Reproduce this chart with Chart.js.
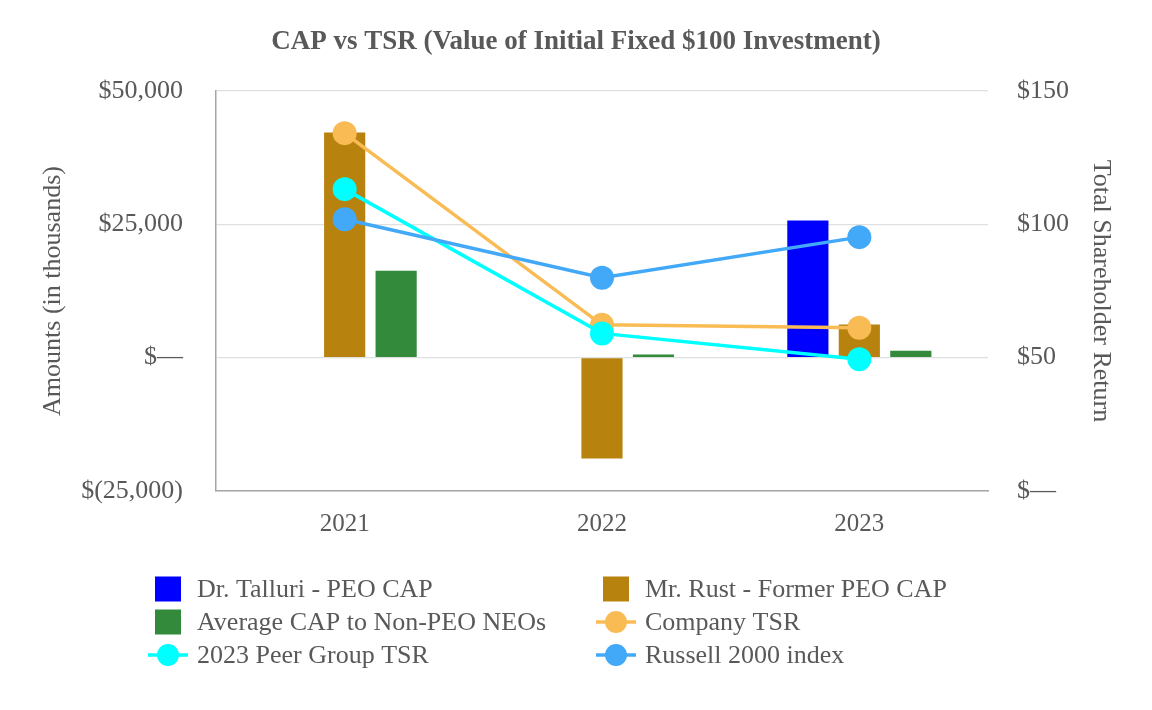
<!DOCTYPE html>
<html>
<head>
<meta charset="utf-8">
<script src="https://cdn.jsdelivr.net/npm/chart.js@4.4.1/dist/chart.umd.min.js"></script>
<style>
html,body{margin:0;padding:0;background:#fff;}
#wrap{width:1152px;height:710px;}
</style>
</head>
<body>
<div id="wrap"><canvas id="c" width="1152" height="710"></canvas></div>
<script>
// ---- data ----
const categories = ['2021', '2022', '2023'];
const tallCap = [null, null, 25700];
const rustCap = [42200, -18900, 6200];
const neoCap = [16300, 600, 1300];
const companyTsr = [134.2, 62.3, 61.2];
const peerTsr = [113.2, 59.1, 49.4];
const russellTsr = [101.9, 80.0, 95.2];
const leftTickValues = [-25000, 0, 25000, 50000];
const leftTickLabels = ['$(25,000)', '$—', '$25,000', '$50,000'];
const rightTickValues = [0, 50, 100, 150];
const rightTickLabels = ['$—', '$50', '$100', '$150'];
const seriesNames = ['Dr. Talluri - PEO CAP', 'Mr. Rust - Former PEO CAP', 'Average CAP to Non-PEO NEOs', 'Company TSR', '2023 Peer Group TSR', 'Russell 2000 index'];

const FONT = '"Liberation Serif", "Times New Roman", serif';
const TXT = '#595959';

Chart.defaults.font.family = FONT;
Chart.defaults.color = TXT;

const legendPlugin = {
  id: 'twoColLegend',
  afterDraw(chart) {
    const ctx = chart.ctx;
    const cols = [{box: 155, center: 168, text: 197}, {box: 603, center: 616, text: 645}];
    const rows = [589, 622, 655];
    ctx.save();
    ctx.font = '26px ' + FONT;
    ctx.textBaseline = 'middle';
    ctx.textAlign = 'left';
    chart.data.datasets.forEach((ds, i) => {
      const col = cols[i % 2];
      const y = rows[Math.floor(i / 2)];
      if (ds.type === 'bar') {
        ctx.fillStyle = ds.backgroundColor;
        ctx.fillRect(col.box, y - 12.5, 26, 25);
      } else {
        ctx.strokeStyle = ds.borderColor;
        ctx.lineWidth = 3.5;
        ctx.beginPath();
        ctx.moveTo(col.center - 20, y);
        ctx.lineTo(col.center + 20, y);
        ctx.stroke();
        ctx.fillStyle = ds.borderColor;
        ctx.beginPath();
        ctx.arc(col.center, y, 11, 0, Math.PI * 2);
        ctx.fill();
      }
      ctx.fillStyle = TXT;
      ctx.fillText(ds.label, col.text, y + 1);
    });
    ctx.restore();
  }
};

const lineDs = (label, data, color, order) => ({
  type: 'line', label, data, yAxisID: 'y1', order,
  borderColor: color, backgroundColor: color,
  pointBackgroundColor: color, pointBorderColor: color,
  borderWidth: 3.5, pointRadius: 12, pointBorderWidth: 0, tension: 0
});

new Chart(document.getElementById('c'), {
  data: {
    labels: categories,
    datasets: [
      {type: 'bar', label: seriesNames[0], data: tallCap, backgroundColor: '#0000FF', yAxisID: 'y', order: 10},
      {type: 'bar', label: seriesNames[1], data: rustCap, backgroundColor: '#B8820F', yAxisID: 'y', order: 10},
      {type: 'bar', label: seriesNames[2], data: neoCap, backgroundColor: '#338A3B', yAxisID: 'y', order: 10},
      lineDs(seriesNames[3], companyTsr, '#F9BC55', 3),
      lineDs(seriesNames[4], peerTsr, '#00FFFF', 2),
      lineDs(seriesNames[5], russellTsr, '#42A8F8', 1)
    ]
  },
  options: {
    responsive: false,
    animation: false,
    layout: {padding: {top: 0, left: 0, right: 0, bottom: 159}},
    datasets: {bar: {categoryPercentage: 0.6, barPercentage: 0.8}},
    plugins: {
      legend: {display: false},
      tooltip: {enabled: false},
      title: {
        display: true,
        text: 'CAP vs TSR (Value of Initial Fixed $100 Investment)',
        color: TXT,
        font: {size: 27, weight: 'bold', family: FONT, lineHeight: 1.2},
        padding: {top: 26, bottom: 32.6}
      }
    },
    scales: {
      x: {
        grid: {display: false, drawTicks: false},
        border: {display: true, color: '#A6A6A6', width: 1.5},
        ticks: {color: TXT, font: {size: 25}, padding: 18},
        afterFit(s) { s.height = 60; }
      },
      y: {
        position: 'left',
        min: -25000, max: 50000,
        afterBuildTicks(s) { s.ticks = leftTickValues.map(v => ({value: v})); },
        ticks: {
          color: TXT, font: {size: 26}, padding: 33,
          callback: (v) => leftTickLabels[leftTickValues.indexOf(v)]
        },
        grid: {color: '#E0E0E0', lineWidth: 1.3, drawTicks: false},
        border: {display: true, color: '#A6A6A6', width: 1.5},
        title: {display: true, text: 'Amounts (in thousands)', color: TXT, font: {size: 26}, padding: {top: 38, bottom: 0}},
        afterFit(s) { s.width = 216; }
      },
      y1: {
        position: 'right',
        min: 0, max: 150,
        afterBuildTicks(s) { s.ticks = rightTickValues.map(v => ({value: v})); },
        ticks: {
          color: TXT, font: {size: 26}, padding: 29,
          callback: (v) => rightTickLabels[rightTickValues.indexOf(v)]
        },
        grid: {display: false, drawTicks: false},
        border: {display: false},
        title: {display: true, text: 'Total Shareholder Return', color: TXT, font: {size: 26}, padding: {top: 36, bottom: 0}},
        afterFit(s) { s.width = 164; }
      }
    }
  },
  plugins: [legendPlugin]
});
</script>
</body>
</html>
